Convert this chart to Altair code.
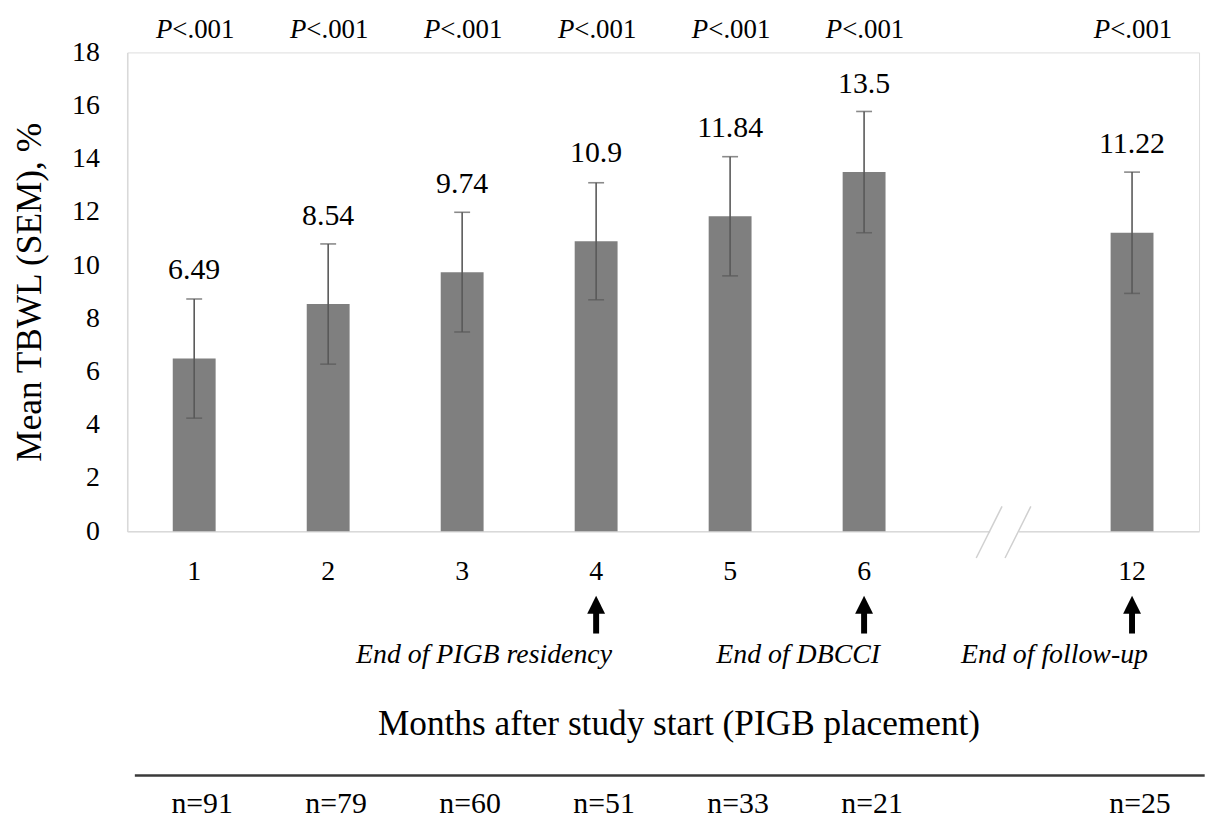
import altair as alt
import pandas as pd

# ---- data ----
months = ["1", "2", "3", "4", "5", "6", "12"]
mean_tbwl = [6.49, 8.54, 9.74, 10.9, 11.84, 13.5, 11.22]
sem = [2.24, 2.26, 2.25, 2.2, 2.24, 2.28, 2.28]
p_labels = ["P<.001", "P<.001", "P<.001", "P<.001", "P<.001", "P<.001", "P<.001"]
n_labels = ["n=91", "n=79", "n=60", "n=51", "n=33", "n=21", "n=25"]
x_domain = ["1", "2", "3", "4", "5", "6", "gap", "12"]
arrow_months = ["4", "6", "12"]
arrow_notes = ["End of PIGB residency", "End of DBCCI", "End of follow-up"]
y_title = "Mean TBWL (SEM), %"
x_title = "Months after study start (PIGB placement)"

df = pd.DataFrame({"month": months, "mean": mean_tbwl, "sem": sem,
                   "p": p_labels, "n": n_labels})
df["lo"] = df["mean"] - df["sem"]
df["hi"] = df["mean"] + df["sem"]
df["label"] = [f"{v:g}" for v in mean_tbwl]
df["p_it"] = df["p"].str[0]
df["p_rest"] = df["p"].str[1:]

arrows = pd.DataFrame({"month": arrow_months, "note": arrow_notes})
brk = pd.DataFrame({"month": ["gap"]})

FONT = "Liberation Serif"
BAR = "#7f7f7f"
ERR = "#595959"
AXIS = "#d9d9d9"

xscale = alt.Scale(domain=x_domain, paddingInner=0.68, paddingOuter=0.34)
yscale = alt.Scale(domain=[0, 18])

x_enc = alt.X("month:N", scale=xscale, title=x_title,
              axis=alt.Axis(labelExpr="datum.value == 'gap' ? '' : datum.value",
                            labelAngle=0, labelFont=FONT, labelFontSize=28,
                            labelColor="black", labelPadding=41, labelBaseline="middle",
                            ticks=False, tickSize=0, domainColor=AXIS, domainWidth=1.5,
                            titleFont=FONT, titleFontSize=35.5, titleFontWeight="normal",
                            titleColor="black", titleX=555, titleY=205,
                            titleAlign="center", titleBaseline="alphabetic"))
xs = alt.X("month:N", scale=xscale)

base = alt.Chart(df)

bars = base.mark_bar(color=BAR).encode(
    x=x_enc,
    y=alt.Y("mean:Q", scale=yscale, title=y_title,
            axis=alt.Axis(values=list(range(0, 19, 2)), labelFont=FONT, labelFontSize=28,
                          labelColor="black", labelPadding=28, ticks=False, tickSize=0,
                          grid=False, domainColor=AXIS, domainWidth=1.5,
                          titleFont=FONT, titleFontSize=35.5, titleFontWeight="normal",
                          titleColor="black", titleAngle=270, titleX=-98.5, titleY=241,
                          titleAlign="center", titleBaseline="middle")),
)

err = base.mark_rule(color=ERR, strokeWidth=1.6).encode(
    x=xs, y=alt.Y("lo:Q", scale=yscale), y2="hi:Q")
cap_hi = base.mark_tick(color=ERR, thickness=1.6, size=16).encode(
    x=xs, y=alt.Y("hi:Q", scale=yscale))
cap_lo = base.mark_tick(color=ERR, thickness=1.6, size=16).encode(
    x=xs, y=alt.Y("lo:Q", scale=yscale))

values = base.mark_text(font=FONT, fontSize=30, color="black", dy=-80,
                        baseline="alphabetic").encode(
    x=xs, y=alt.Y("mean:Q", scale=yscale), text="label:N")

p_it = base.mark_text(font=FONT, fontSize=27, fontStyle="italic", color="black",
                      align="right", dx=-22, dy=-15, baseline="alphabetic").encode(
    x=xs, y=alt.datum(18), text="p_it:N")
p_rest = base.mark_text(font=FONT, fontSize=27, color="black",
                        align="left", dx=-22, dy=-15, baseline="alphabetic").encode(
    x=xs, y=alt.datum(18), text="p_rest:N")

n_text = base.mark_text(font=FONT, fontSize=30, color="black", dx=8, dy=284,
                        baseline="alphabetic").encode(
    x=xs, y=alt.datum(0), text="n:N")

arr = alt.Chart(arrows)
shaft = arr.mark_rule(color="black", strokeWidth=6, yOffset=82, y2Offset=103).encode(
    x=xs, y=alt.datum(0), y2=alt.datum(0))
head = arr.mark_point(shape="M0,-1L-1,1L1,1Z", filled=True, size=324, color="black",
                      opacity=1, yOffset=74).encode(x=xs, y=alt.datum(0))
notes = arr.mark_text(font=FONT, fontSize=28, fontStyle="italic", color="black",
                      align="right", dx=16, dy=133, baseline="alphabetic").encode(
    x=xs, y=alt.datum(0), text="note:N")

b = alt.Chart(brk)
gap_cover = b.mark_rule(color="white", strokeWidth=5, xOffset=-8, x2Offset=21).encode(
    x=xs, x2="month:N", y=alt.datum(0))
slash1 = b.mark_rule(color="#d0d0d0", strokeWidth=1.5, xOffset=-22, x2Offset=4,
                     yOffset=27, y2Offset=-25).encode(
    x=xs, x2="month:N", y=alt.datum(0), y2=alt.datum(0))
slash2 = b.mark_rule(color="#d0d0d0", strokeWidth=1.5, xOffset=7, x2Offset=33,
                     yOffset=27, y2Offset=-25).encode(
    x=xs, x2="month:N", y=alt.datum(0), y2=alt.datum(0))

hline = b.mark_rule(color="#3a3a3a", strokeWidth=2.5, xOffset=-869, x2Offset=208,
                    yOffset=246, y2Offset=246).encode(
    x=xs, x2="month:N", y=alt.datum(0), y2=alt.datum(0))

chart = alt.layer(
    bars, err, cap_hi, cap_lo, values, p_it, p_rest, n_text,
    shaft, head, notes, gap_cover, slash1, slash2, hline
).properties(
    width=1079, height=482,
    autosize=alt.AutoSizeParams(type="none"),
    padding={"left": 120, "top": 42, "right": 6, "bottom": 286},
).configure_view(stroke=None).configure(background="white")

chart.save("out.html", embed_options={"renderer": "svg", "actions": False})
